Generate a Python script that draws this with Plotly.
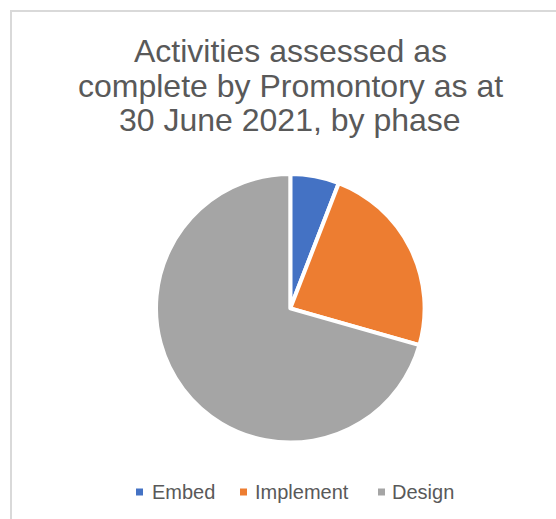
import plotly.graph_objects as go

# Data
labels = ["Embed", "Implement", "Design"]
values = [2, 8, 24]
colors = ["#4472C4", "#ED7D31", "#A5A5A5"]
title_lines = ["Activities assessed as", "complete by Promontory as at", "30 June 2021, by phase"]

W, H = 556, 519

def px_x(x):
    return x / W

def px_y(y):
    return 1 - y / H

cx, cy, r = 290.3, 308.3, 134.3

fig = go.Figure()
fig.add_trace(go.Pie(
    labels=labels,
    values=values,
    marker=dict(colors=colors, line=dict(color="white", width=4)),
    sort=False,
    direction="clockwise",
    rotation=0,
    textinfo="none",
    showlegend=False,
    domain=dict(x=[px_x(cx - r), px_x(cx + r)], y=[px_y(cy + r), px_y(cy - r)]),
))

annotations = []
# Title lines
baselines = [61.7, 96.7, 130.7]
for line, b in zip(title_lines, baselines):
    annotations.append(dict(
        text=line, x=px_x(290), y=px_y(b - 11), xref="paper", yref="paper",
        xanchor="center", yanchor="middle", showarrow=False,
        font=dict(family="Liberation Sans, Arial, sans-serif", size=32, color="#595959"),
    ))

# Custom legend
shapes = []
legend_marker_x = [136, 240, 378]
legend_text_x = [150, 253, 390]
ly = 492
for lab, col, mx, tx in zip(labels, colors, legend_marker_x, legend_text_x):
    shapes.append(dict(type="rect", xref="paper", yref="paper",
                       x0=px_x(mx), x1=px_x(mx + 7), y0=px_y(ly + 3.5), y1=px_y(ly - 3.5),
                       fillcolor=col, line=dict(width=0)))
    annotations.append(dict(
        text=lab, x=px_x(tx), y=px_y(ly), xref="paper", yref="paper",
        xanchor="left", yanchor="middle", showarrow=False,
        font=dict(family="Liberation Sans, Arial, sans-serif", size=20, color="#595959"),
    ))

# Chart border
shapes.append(dict(type="rect", xref="paper", yref="paper",
                   x0=px_x(11), x1=px_x(W + 20), y0=px_y(H + 20), y1=px_y(11),
                   line=dict(color="#D9D9D9", width=2), fillcolor="rgba(0,0,0,0)"))

fig.update_layout(
    width=W, height=H,
    margin=dict(l=0, r=0, t=0, b=0),
    paper_bgcolor="white",
    plot_bgcolor="white",
    annotations=annotations,
    shapes=shapes,
)

fig.write_html("out.html")
